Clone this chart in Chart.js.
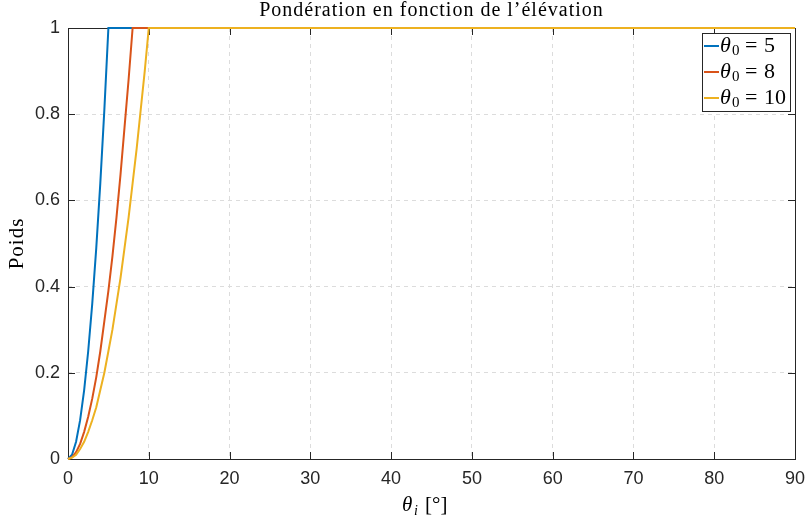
<!DOCTYPE html>
<html><head><meta charset="utf-8">
<script src="https://cdn.jsdelivr.net/npm/chart.js@4/dist/chart.umd.min.js"></script>
<style>html,body{margin:0;padding:0;background:#fff}#c{display:block}</style>
</head><body>
<canvas id="c" width="806" height="520"></canvas>
<script>
const titleText = "Pondération en fonction de l’élévation";
const yLabel = "Poids";
const seriesNames = ["5", "8", "10"];
const blueX = [0,0.5,1,1.5,2,2.5,3,3.5,4,4.5,5,90];
const blueY = [0,0.01,0.04,0.09,0.16,0.25,0.36,0.49,0.64,0.81,1,1];
const redX = [0,0.5,1,1.5,2,2.5,3,3.5,4,4.5,5,5.5,6,6.5,7,7.5,8,90];
const redY = [0,0.004,0.016,0.035,0.063,0.098,0.14,0.19,0.25,0.32,0.39,0.47,0.56,0.66,0.77,0.88,1,1];
const yellowX = [0,0.5,1,1.5,2,2.5,3,3.5,4,4.5,5,5.5,6,6.5,7,7.5,8,8.5,9,9.5,10,90];
const yellowY = [0,0.003,0.01,0.023,0.04,0.063,0.09,0.12,0.16,0.2,0.25,0.3,0.36,0.42,0.49,0.56,0.64,0.72,0.81,0.9,1,1];
const xTicks = [0,10,20,30,40,50,60,70,80,90];
const yTicks = [0,0.2,0.4,0.6,0.8,1];
const colors = ["#0072BD","#D95319","#EDB120"];

function pts(xs, ys){ return xs.map((x,i)=>({x:x,y:ys[i]})); }

const overlay = {
  id:'overlay',
  beforeDatasetsDraw(chart){
    const ctx = chart.ctx, a = chart.chartArea;
    ctx.save();
    ctx.strokeStyle = '#262626'; ctx.lineWidth = 1;
    ctx.strokeRect(Math.round(a.left)+0.5, Math.round(a.top)+0.5, Math.round(a.right-a.left), Math.round(a.bottom-a.top));
    const xs = chart.scales.x, ys = chart.scales.y;
    ctx.beginPath();
    xTicks.forEach(t=>{ const px=Math.round(xs.getPixelForValue(t))+0.5;
      ctx.moveTo(px,a.bottom); ctx.lineTo(px,a.bottom-7);
      ctx.moveTo(px,a.top); ctx.lineTo(px,a.top+7); });
    yTicks.forEach(t=>{ const py=Math.round(ys.getPixelForValue(t))+0.5;
      ctx.moveTo(a.left,py); ctx.lineTo(a.left+7,py);
      ctx.moveTo(a.right,py); ctx.lineTo(a.right-7,py); });
    ctx.stroke();
    ctx.restore();
  },
  afterDraw(chart){
    const ctx = chart.ctx, a = chart.chartArea;
    ctx.save();
    ctx.fillStyle = '#000';
    ctx.letterSpacing = '1px';
    ctx.font = '20px "Liberation Serif", serif';
    ctx.textAlign = 'center'; ctx.textBaseline = 'middle';
    ctx.fillText(titleText, (a.left+a.right)/2, 11);
    ctx.save();
    ctx.translate(17, (a.top+a.bottom)/2);
    ctx.rotate(-Math.PI/2);
    ctx.font = '21px "Liberation Serif", serif';
    ctx.fillText(yLabel, 0, 0);
    ctx.restore();
    ctx.letterSpacing = '0px';
    ctx.textAlign = 'left'; ctx.textBaseline = 'alphabetic';
    ctx.font = 'italic 21px "Liberation Serif", serif';
    let x0 = 402, by = 511;
    ctx.fillText('θ', x0, by);
    ctx.font = 'italic 14px "Liberation Serif", serif';
    ctx.fillText('i', x0+12, by+4);
    ctx.font = '21px "Liberation Serif", serif';
    ctx.fillText('[°]', x0+23, by);
    const lx = 702, ly = 33, lw = 88, lh = 78;
    ctx.fillStyle = '#fff';
    ctx.fillRect(lx, ly, lw, lh);
    ctx.strokeStyle = '#262626'; ctx.lineWidth = 1;
    ctx.strokeRect(lx+0.5, ly+0.5, lw, lh);
    seriesNames.forEach((n,i)=>{
      const yy = ly + 13 + i*26;
      ctx.strokeStyle = colors[i]; ctx.lineWidth = 2;
      ctx.beginPath(); ctx.moveTo(lx+2, yy); ctx.lineTo(lx+17, yy); ctx.stroke();
      ctx.fillStyle = '#000';
      ctx.textBaseline = 'middle';
      ctx.font = 'italic 22px "Liberation Serif", serif';
      ctx.fillText('θ', lx+18, yy);
      ctx.font = '15px "Liberation Serif", serif';
      ctx.fillText('0', lx+30, yy+5);
      ctx.font = '22px "Liberation Serif", serif';
      ctx.fillText('=', lx+43, yy);
      ctx.fillText(n, lx+62, yy);
    });
    ctx.restore();
  }
};

new Chart(document.getElementById('c'), {
  type:'line',
  plugins:[overlay],
  data:{ datasets:[
    {data:pts(blueX,blueY), borderColor:colors[0], order:2},
    {data:pts(redX,redY), borderColor:colors[1], order:1},
    {data:pts(yellowX,yellowY), borderColor:colors[2], order:0}
  ].map(d=>Object.assign(d,{borderWidth:2,pointRadius:0,fill:false,clip:false,tension:0}))},
  options:{
    responsive:false, animation:false, devicePixelRatio:1,
    layout:{padding:{top:28,right:11,left:0,bottom:0}},
    plugins:{legend:{display:false},tooltip:{enabled:false},title:{display:false}},
    scales:{
      x:{type:'linear',min:0,max:90,
        afterBuildTicks(s){ s.ticks = xTicks.map(v=>({value:v})); },
        afterFit(s){ s.height = 61; s.paddingRight = 0; s.paddingLeft = 0; },
        grid:{color:'#dcdcdc',drawTicks:false,tickLength:0},
        border:{display:false,dash:[4,4]},
        ticks:{color:'#262626',padding:9,font:{family:'"Liberation Sans", Arial, sans-serif',size:18},maxRotation:0}
      },
      y:{type:'linear',min:0,max:1,
        afterBuildTicks(s){ s.ticks = yTicks.map(v=>({value:v})); },
        afterFit(s){ s.width = 68; s.paddingTop = 0; s.paddingBottom = 0; },
        grid:{color:'#dcdcdc',drawTicks:false,tickLength:0},
        border:{display:false,dash:[4,4]},
        ticks:{color:'#262626',padding:8,font:{family:'"Liberation Sans", Arial, sans-serif',size:18},
          callback:v=>String(v)}
      }
    }
  }
});
</script>
</body></html>
